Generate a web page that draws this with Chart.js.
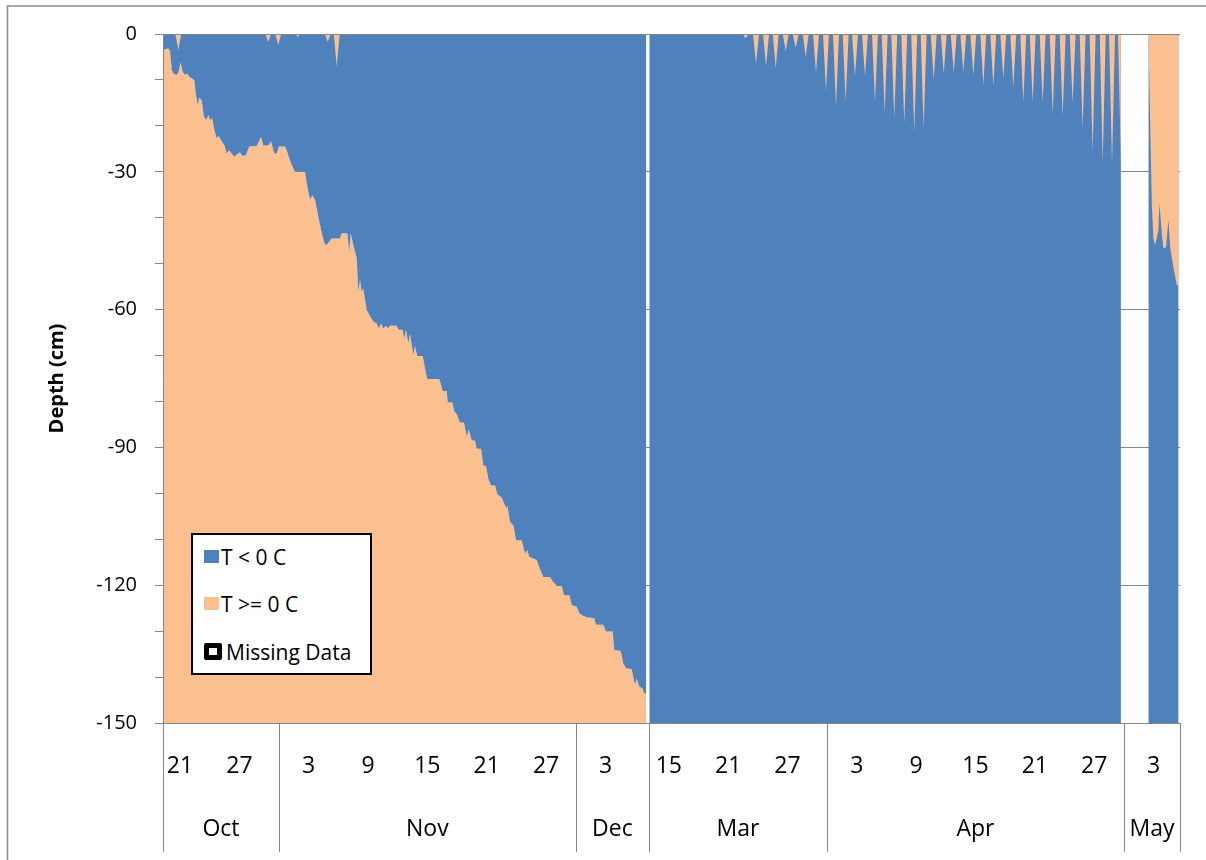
<!DOCTYPE html>
<html>
<head>
<meta charset="utf-8">
<script src="https://cdn.jsdelivr.net/npm/chart.js@4.4.1/dist/chart.umd.min.js"></script>
<style>
  html, body { margin: 0; padding: 0; background: #fff; }
  #wrap { position: relative; width: 1206px; height: 860px; }
  #legend {
    position: absolute; left: 191px; top: 533px; width: 177px; height: 138px;
    border: 2px solid #000; background: #fff;
    font-family: 'Open Sans', sans-serif; font-size: 21px; color: #000;
  }
  .item { position: absolute; left: 11px; height: 27px; display: flex; align-items: center; white-space: nowrap; }
  .swatch { width: 15px; height: 13px; margin-right: 2px; }
  .missing { width: 8px; height: 7px; border: 5px solid #000; border-radius: 2px; background: #fff; margin-right: 4px; }
</style>
</head>
<body>
<div id="wrap">
  <canvas id="depthChart" width="1206" height="860"></canvas>
  <div id="legend">
    <div class="item" style="top:8px"><span class="swatch" style="background:#4F81BD"></span>T &lt; 0 C</div>
    <div class="item" style="top:55px"><span class="swatch" style="background:#FAC090"></span>T &gt;= 0 C</div>
    <div class="item" style="top:103px"><span class="missing"></span>Missing Data</div>
  </div>
</div>
<script>
(function () {
  'use strict';

  var FONT = "'Open Sans', sans-serif";
  var BLUE = '#4F81BD';
  var ORANGE = '#FAC090';
  var GRID = '#868686';

  // x values are days: Oct 1 00:00 = 0 for the autumn record, spring record follows on
  var monthNames = ['Oct', 'Nov', 'Dec', 'Mar', 'Apr', 'May'];
  var monthStart = [19.28, 31, 61, 68.4, 86.4, 116.4];
  var axisEnd = 122.07;

  var dayTickValues = [21, 27, 34, 40, 46, 52, 58, 64, 70.4, 76.4, 82.4, 89.4, 95.4, 101.4, 107.4, 113.4, 119.4];
  var dayTickLabels = ['21', '27', '3', '9', '15', '21', '27', '3', '15', '21', '27', '3', '9', '15', '21', '27', '3'];

  var depthMin = -150;
  var depthMax = 0;

  // freezing front descending from the surface, Oct - Dec
  var fallFront = [
    [19.28, -3.5], [19.82, -3.1], [19.99, -3.8], [20.16, -7.8], [20.32, -8.6], [20.66, -8.9], [20.83, -8.4],
    [21.07, -6.2], [21.27, -8.2], [21.50, -8.9], [21.74, -8.6], [21.94, -9.3], [22.18, -9.7], [22.44, -10.0],
    [22.59, -12.9], [22.79, -15.5], [22.95, -13.8], [23.19, -14.4], [23.42, -18.1], [23.70, -18.6], [23.86, -17.6],
    [24.03, -18.7], [24.26, -18.4], [24.47, -20.9], [24.71, -22.7], [24.91, -22.2], [25.14, -23.1], [25.48, -24.2],
    [25.72, -26.0], [25.95, -25.3], [26.22, -26.0], [26.49, -26.7], [26.79, -26.1], [27.06, -25.8], [27.34, -26.6],
    [27.67, -26.3], [28.00, -24.5], [28.75, -24.4], [29.19, -22.4], [29.42, -24.3], [29.92, -24.3], [30.20, -23.4],
    [30.53, -26.0], [30.77, -26.0], [31.00, -24.5], [31.61, -24.5], [31.78, -25.3], [32.05, -27.1], [32.29, -28.5],
    [32.62, -30.0], [33.63, -30.0], [33.80, -32.5], [34.14, -36.1], [34.37, -35.1], [34.64, -36.1], [34.88, -38.7],
    [35.15, -41.6], [35.38, -43.8], [35.65, -45.9], [35.83, -45.9], [36.33, -44.5], [37.17, -44.5], [37.34, -43.4],
    [37.91, -43.4], [38.11, -47.4], [38.25, -43.4], [38.51, -45.9], [38.86, -48.8], [39.02, -56.1], [39.19, -53.6],
    [39.36, -56.1], [39.52, -55.4], [39.87, -60.1], [40.13, -61.2], [40.54, -62.6], [40.88, -63.0], [41.11, -64.1],
    [41.31, -63.0], [41.55, -64.1], [41.82, -63.5], [42.05, -64.1], [42.22, -63.5], [42.90, -63.5], [43.06, -64.4],
    [43.51, -64.4], [43.64, -66.5], [43.84, -64.4], [44.07, -67.3], [44.25, -65.3], [44.58, -69.9], [44.75, -67.9],
    [44.98, -70.1], [45.53, -70.1], [45.76, -72.8], [45.99, -75.1], [47.21, -75.1], [47.55, -77.7], [47.95, -77.7],
    [48.06, -80.2], [48.52, -80.2], [48.72, -82.2], [48.97, -82.8], [49.30, -84.6], [49.70, -84.6], [49.98, -87.7],
    [50.18, -86.1], [50.48, -88.5], [50.81, -88.5], [50.99, -90.3], [51.42, -90.3], [51.65, -93.9], [51.93, -94.1],
    [52.16, -96.8], [52.43, -98.3], [52.84, -98.3], [53.07, -100.2], [53.51, -100.9], [53.75, -102.2], [54.02, -103.3],
    [54.08, -102.6], [54.35, -106.2], [54.69, -107.0], [54.96, -110.2], [55.53, -110.2], [55.87, -113.1], [56.10, -112.4],
    [56.30, -113.8], [57.05, -114.5], [57.31, -116.1], [57.72, -118.2], [58.39, -118.2], [58.67, -119.2], [59.13, -120.2],
    [59.58, -120.2], [59.81, -122.2], [60.35, -122.2], [60.59, -124.3], [61.09, -124.7], [61.36, -126.1], [61.76, -126.7],
    [62.10, -127.0], [62.87, -127.2], [63.04, -128.6], [63.78, -128.6], [64.05, -130.1], [64.73, -130.1], [64.89, -134.1],
    [65.54, -134.3], [65.80, -137.0], [66.08, -138.1], [66.65, -138.3], [66.99, -141.7], [67.16, -140.3], [67.42, -142.1],
    [67.76, -142.5], [67.89, -143.6], [68.13, -143.6]
  ];

  // short thaw events reaching down from the surface
  var fallThawDay = [20.83, 29.92, 30.93, 32.89, 35.93, 36.84];
  var fallThawDepth = [-3.5, -1.7, -2.4, -0.6, -1.7, -7.1];

  var springThawDay = [78.17, 79.22, 80.23, 81.21, 82.22, 83.23, 84.24, 85.28, 86.29, 87.30, 88.28, 89.22, 90.23,
    91.24, 92.22, 93.19, 94.20, 95.21, 96.16, 97.18, 98.19, 99.20, 100.17, 101.18, 102.19, 103.20, 104.21, 105.22,
    106.23, 107.18, 108.19, 109.20, 110.21, 111.22, 112.23, 113.24, 114.26, 115.20, 116.10];
  var springThawDepth = [-1, -6.5, -7, -7.5, -3.7, -3, -5, -8.4, -12.4, -15.8, -14.6, -9.2, -9.2,
    -14.8, -17.2, -18.4, -19.5, -21.2, -20.6, -9.9, -8.6, -8.4, -8.2, -8.9, -11.1, -11.3, -9.7, -11.6,
    -14.8, -14.8, -15, -17.4, -17.9, -15, -20.6, -25.7, -28, -28.4, -28];

  // thaw front in May
  var mayThaw = [
    [118.87, 0], [119.22, -36.9], [119.38, -44.5], [119.55, -46], [119.89, -42.7], [119.99, -36.9], [120.23, -43.5],
    [120.39, -46.7], [120.66, -46.4], [120.90, -40.5], [121.07, -46.4], [121.40, -50.7], [121.75, -54.7], [121.93, -54.7]
  ];

  var fallSpan = [19.28, 68.13];
  var springSpan = [68.43, 116.10];
  var maySpan = [118.87, 121.93];
  var THAW_HALF = 0.3;

  function toPoints(pairs) {
    return pairs.map(function (p) { return { x: p[0], y: p[1] }; });
  }

  function thawLine(span, days, depths) {
    var pts = [{ x: span[0], y: 0 }];
    days.forEach(function (d, i) {
      pts.push({ x: d - THAW_HALF, y: 0 }, { x: d, y: depths[i] }, { x: d + THAW_HALF, y: 0 });
    });
    pts = pts.filter(function (p) { return p.x >= span[0] && p.x <= span[1]; });
    if (pts[pts.length - 1].x < span[1]) pts.push({ x: span[1], y: 0 });
    return pts;
  }

  function gapAt(a, b) {
    return { x: (a + b) / 2, y: null };
  }

  var gap1 = gapAt(fallSpan[1], springSpan[0]);
  var gap2 = gapAt(springSpan[1], maySpan[0]);

  var surfaceData = thawLine(fallSpan, fallThawDay, fallThawDepth)
    .concat([gap1], thawLine(springSpan, springThawDay, springThawDepth), [gap2], toPoints(mayThaw));

  var baseData = toPoints(fallFront)
    .concat([gap1, { x: springSpan[0], y: depthMin }, { x: springSpan[1], y: depthMin }, gap2,
      { x: maySpan[0], y: depthMin }, { x: maySpan[1], y: depthMin }]);

  var monthCenters = monthStart.map(function (s, i) {
    var e = i + 1 < monthStart.length ? monthStart[i + 1] : axisEnd;
    return (s + e) / 2;
  });

  var framePlugin = {
    id: 'frame',
    beforeDraw: function (chart) {
      var ctx = chart.ctx;
      ctx.save();
      ctx.fillStyle = '#fff';
      ctx.fillRect(0, 0, chart.width, chart.height);
      ctx.strokeStyle = '#8a8a8a';
      ctx.lineWidth = 1.5;
      ctx.beginPath();
      ctx.moveTo(7.5, chart.height + 5);
      ctx.lineTo(7.5, 6);
      ctx.lineTo(chart.width + 5, 6);
      ctx.stroke();
      ctx.restore();
    },
    afterDatasetsDraw: function (chart) {
      var a = chart.chartArea;
      var ctx = chart.ctx;
      var xm = chart.scales.xm;
      var top = Math.round(a.top) + 0.5;
      var bottom = Math.round(a.bottom) + 0.5;
      var left = Math.round(a.left) + 0.5;
      ctx.save();
      ctx.strokeStyle = GRID;
      ctx.lineWidth = 1;
      ctx.beginPath();
      ctx.moveTo(a.left - 8, top);
      ctx.lineTo(a.right, top);
      ctx.moveTo(left, a.top);
      ctx.lineTo(left, a.bottom);
      ctx.moveTo(a.left - 8, bottom);
      ctx.lineTo(a.right, bottom);
      monthStart.concat([axisEnd]).forEach(function (v) {
        var px = Math.round(xm.getPixelForValue(v)) + 0.5;
        ctx.moveTo(px, a.bottom);
        ctx.lineTo(px, 852);
      });
      ctx.stroke();
      ctx.restore();
    }
  };

  document.addEventListener('DOMContentLoaded', function () {
    Chart.defaults.font.family = FONT;
    Chart.defaults.color = '#000';

    new Chart(document.getElementById('depthChart'), {
      type: 'line',
      data: {
        datasets: [
          { label: 'T >= 0 C (surface)', data: surfaceData, fill: 'end', backgroundColor: ORANGE },
          { label: 'T < 0 C', data: baseData, fill: 'end', backgroundColor: BLUE },
          { label: 'T >= 0 C', data: baseData, fill: 'start', backgroundColor: ORANGE }
        ]
      },
      options: {
        responsive: false,
        animation: false,
        events: [],
        spanGaps: false,
        elements: {
          line: { borderWidth: 0, borderColor: 'rgba(0,0,0,0)', tension: 0 },
          point: { radius: 0, hoverRadius: 0 }
        },
        layout: { padding: { left: 0, top: 34, right: 26, bottom: 7 } },
        plugins: { legend: { display: false }, tooltip: { enabled: false } },
        scales: {
          x: {
            type: 'linear',
            position: 'bottom',
            weight: 0,
            min: monthStart[0],
            max: axisEnd,
            afterBuildTicks: function (scale) {
              scale.ticks = dayTickValues.map(function (v) { return { value: v }; });
            },
            ticks: {
              autoSkip: false,
              maxRotation: 0,
              padding: 30,
              font: { size: 23 },
              callback: function (value, index) { return dayTickLabels[index]; }
            },
            grid: { display: false, drawTicks: false },
            border: { display: false },
            afterFit: function (scale) { scale.height = 65; }
          },
          xm: {
            type: 'linear',
            position: 'bottom',
            weight: 1,
            min: monthStart[0],
            max: axisEnd,
            afterBuildTicks: function (scale) {
              scale.ticks = monthCenters.map(function (v) { return { value: v }; });
            },
            ticks: {
              autoSkip: false,
              maxRotation: 0,
              padding: 28,
              font: { size: 23 },
              callback: function (value, index) { return monthNames[index]; }
            },
            grid: { display: false, drawTicks: false },
            border: { display: false },
            afterFit: function (scale) { scale.height = 65; }
          },
          y: {
            min: depthMin,
            max: depthMax,
            ticks: {
              stepSize: 10,
              autoSkip: false,
              padding: 18,
              font: { size: 20 },
              callback: function (value) { return value % 30 === 0 ? String(value) : ''; }
            },
            grid: {
              color: function (ctx) {
                return ctx.tick && ctx.tick.value % 30 === 0 ? GRID : 'rgba(0,0,0,0)';
              },
              tickColor: GRID,
              tickLength: 8,
              lineWidth: 1
            },
            border: { display: false },
            title: {
              display: true,
              text: 'Depth (cm)',
              font: { size: 20, weight: 'bold' },
              padding: { top: 45, bottom: 0 }
            },
            afterFit: function (scale) { scale.width = 163; }
          }
        }
      },
      plugins: [framePlugin]
    });
  });
}());
</script>
</body>
</html>
